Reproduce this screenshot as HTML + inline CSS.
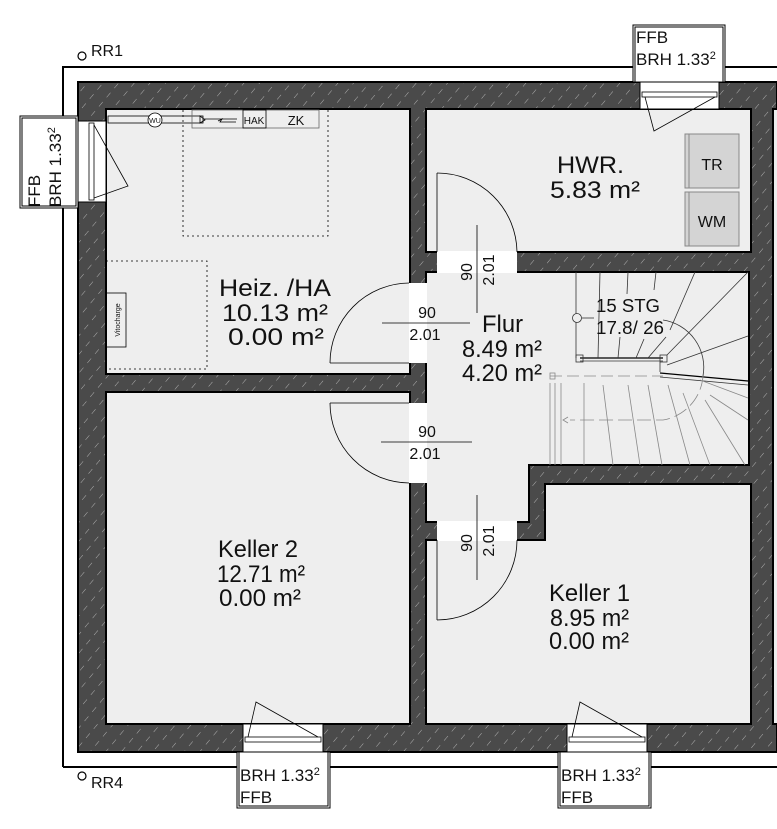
<!DOCTYPE html>
<html><head><meta charset="utf-8"><style>
html,body{margin:0;padding:0;background:#fff;}
svg{display:block;}
text{font-family:"Liberation Sans",sans-serif;fill:#111;}
</style></head><body>
<svg width="777" height="829" viewBox="0 0 777 829" xmlns="http://www.w3.org/2000/svg">
<defs>
<pattern id="h" width="12" height="12" patternUnits="userSpaceOnUse" patternTransform="rotate(40)">
<rect width="12" height="12" fill="#4a4a4a"/>
<line x1="0" y1="0" x2="0" y2="6" stroke="#bdbdbd" stroke-width="0.9"/>
</pattern>
</defs>
<path d="M63,767 V67 H777" fill="none" stroke="#000" stroke-width="2"/>
<line x1="63" y1="767" x2="777" y2="767" stroke="#000" stroke-width="2"/>
<rect x="78" y="82" width="699" height="670" fill="url(#h)" stroke="#000" stroke-width="2"/>
<g fill="#eeeeee" stroke="#000" stroke-width="2">
<rect x="106" y="109" width="304" height="265"/>
<rect x="426" y="109" width="325" height="143"/>
<rect x="106" y="392" width="304" height="332"/>
<polygon points="426,540 545,540 545,484 751,484 751,724 426,724"/>
<polygon points="426,272 749,272 749,465 529,465 529,522 426,522"/>
<rect x="773" y="109" width="10" height="615"/>
</g>
<g fill="#fff">
<rect x="409" y="283" width="18" height="80"/>
<rect x="409" y="403" width="18" height="80"/>
<rect x="437" y="251" width="80" height="22"/>
<rect x="437" y="521" width="80" height="20"/>
</g>
<g fill="#fff" stroke="#000" stroke-width="1">
<rect x="78" y="121" width="28" height="81"/>
<rect x="640" y="82" width="79" height="27"/>
<rect x="243" y="724" width="80" height="28"/>
<rect x="567" y="724" width="80" height="28"/>
</g>
<g fill="none" stroke="#000" stroke-width="0.8">
<rect x="89" y="123" width="5" height="77"/>
<rect x="642" y="92" width="75" height="5"/>
<rect x="245" y="737" width="76" height="5"/>
<rect x="569" y="737" width="76" height="5"/>
<polyline points="94,125 128,186 94,198"/>
<polyline points="645,97 654,131 715,97"/>
<polyline points="248,737 256,702 318,737"/>
<polyline points="572,737 580,702 642,737"/>
</g>
<g fill="#fff" stroke="#000" stroke-width="1">
<rect x="20" y="116" width="58" height="92"/><rect x="22" y="118" width="54" height="88" fill="none"/>
<rect x="633" y="25" width="92" height="57"/><rect x="635" y="27" width="88" height="55" fill="none"/>
<rect x="237" y="752" width="93" height="56"/><rect x="239" y="752" width="89" height="54" fill="none"/>
<rect x="558" y="752" width="93" height="56"/><rect x="560" y="752" width="89" height="54" fill="none"/>
</g>
<g font-size="17">
<text x="636" y="43">FFB</text>
<text x="636" y="65">BRH 1.33<tspan font-size="11" dy="-6">2</tspan></text>
<text x="240" y="781">BRH 1.33<tspan font-size="11" dy="-6">2</tspan></text>
<text x="240" y="803">FFB</text>
<text x="561" y="781">BRH 1.33<tspan font-size="11" dy="-6">2</tspan></text>
<text x="561" y="803">FFB</text>
<text transform="translate(40,207) rotate(-90)">FFB</text>
<text transform="translate(61,207) rotate(-90)">BRH 1.33<tspan font-size="11" dy="-6">2</tspan></text>
</g>
<circle cx="82" cy="56" r="4" fill="none" stroke="#000" stroke-width="1.2"/>
<text x="91" y="56" font-size="16">RR1</text>
<circle cx="82" cy="776" r="4" fill="none" stroke="#000" stroke-width="1.2"/>
<text x="91" y="788" font-size="16">RR4</text>
<g fill="none" stroke="#000" stroke-width="0.8">
<line x1="330" y1="363" x2="409" y2="363"/>
<path d="M330,363 A80,80 0 0 1 409,283"/>
<line x1="330" y1="403" x2="409" y2="403"/>
<path d="M330,403 A80,80 0 0 0 409,483"/>
<line x1="437" y1="173" x2="437" y2="252"/>
<path d="M437,173 A80,80 0 0 1 517,252"/>
<line x1="437" y1="540" x2="437" y2="620"/>
<path d="M437,620 A80,80 0 0 0 517,540"/>
</g>
<g stroke="#000" stroke-width="0.8">
<line x1="382" y1="323" x2="470" y2="323"/>
<line x1="381" y1="442" x2="472" y2="442"/>
<line x1="477" y1="225" x2="477" y2="313"/>
<line x1="477" y1="495" x2="477" y2="580"/>
</g>
<g font-size="16" text-anchor="middle">
<text x="427" y="318">90</text>
<text x="425" y="340">2.01</text>
<text x="427" y="437">90</text>
<text x="425" y="459">2.01</text>
<text transform="translate(472,272) rotate(-90)">90</text>
<text transform="translate(494,270) rotate(-90)">2.01</text>
<text transform="translate(472,543) rotate(-90)">90</text>
<text transform="translate(494,541) rotate(-90)">2.01</text>
</g>
<g fill="none" stroke="#000" stroke-width="0.8">
<rect x="108" y="116" width="95" height="7"/>
<line x1="203" y1="119" x2="237" y2="119"/>
<rect x="192" y="110" width="127" height="18" stroke="#666"/>
<rect x="243" y="110" width="23" height="18" stroke="#000"/>
<path d="M200,116 L205,120 L200,123 Z"/>
<path d="M218,121 L222,119 L220,122 L236,122"/>
<rect x="106" y="293" width="20" height="54"/>
</g>
<circle cx="155" cy="120" r="7" fill="#fff" stroke="#000" stroke-width="0.8"/>
<text x="155" y="123" font-size="7" text-anchor="middle">WU</text>
<text x="254" y="124" font-size="10" text-anchor="middle">HAK</text>
<text x="296" y="125" font-size="13" text-anchor="middle">ZK</text>
<text transform="translate(120,320) rotate(-90)" font-size="7" text-anchor="middle">Vitocharge</text>
<g fill="none" stroke="#000" stroke-width="0.8" stroke-dasharray="2,3">
<path d="M183,110 V236 H328 V110"/>
<path d="M106,261 H207 V369 H106"/>
</g>
<g stroke="#888" stroke-width="1" fill="#d4d4d4">
<rect x="685" y="134" width="54" height="54"/>
<rect x="685" y="192" width="54" height="54"/>
</g>
<g stroke="#888" stroke-width="1"><line x1="689" y1="134" x2="689" y2="188"/><line x1="689" y1="192" x2="689" y2="246"/></g>
<text x="712" y="170" font-size="16" text-anchor="middle">TR</text>
<text x="712" y="227" font-size="16" text-anchor="middle">WM</text>
<g fill="none" stroke="#333" stroke-width="0.8">
<line x1="576" y1="272" x2="576" y2="358"/>
<line x1="580" y1="358" x2="663" y2="358" stroke="#000" stroke-width="1.2"/>
<line x1="580" y1="361" x2="663" y2="361"/>
<rect x="576" y="355" width="7" height="7"/>
<rect x="660" y="355" width="7" height="7"/>
<line x1="660" y1="362" x2="660" y2="372"/>
<line x1="660" y1="373" x2="748" y2="381" stroke="#000" stroke-width="1.2"/>
<line x1="660" y1="377" x2="748" y2="385"/>
<path d="M663,320 A48,48 0 0 1 703,376"/>
<line x1="600" y1="272" x2="598" y2="358"/>
<line x1="628" y1="272" x2="627" y2="294"/>
<line x1="620" y1="337" x2="618" y2="358"/>
<line x1="656" y1="272" x2="654" y2="290"/>
<line x1="644" y1="339" x2="636" y2="358"/>
<line x1="695" y1="272" x2="670" y2="330"/>
<line x1="666" y1="337" x2="648" y2="358"/>
<line x1="748" y1="272" x2="667" y2="355"/>
<line x1="748" y1="336" x2="667" y2="365"/>
</g>
<g fill="none" stroke="#888" stroke-width="0.8">
<line x1="550" y1="376" x2="663" y2="376" stroke-dasharray="12,5"/>
<rect x="550" y="373" width="5" height="6"/>
<line x1="550" y1="383" x2="550" y2="465"/><line x1="555" y1="383" x2="555" y2="465"/><line x1="561" y1="383" x2="561" y2="465"/>
<line x1="584" y1="383" x2="584" y2="465"/>
<line x1="603" y1="385" x2="613" y2="465"/>
<line x1="628" y1="385" x2="640" y2="465"/>
<line x1="648" y1="385" x2="662" y2="465"/>
<line x1="668" y1="385" x2="690" y2="465"/>
<line x1="683" y1="393" x2="710" y2="465"/>
<line x1="705" y1="400" x2="745" y2="465"/>
<line x1="710" y1="395" x2="748" y2="420"/>
<line x1="700" y1="380" x2="748" y2="398"/>
<path d="M703,376 A48,48 0 0 1 663,420 H570" stroke-dasharray="14,5"/>
<path d="M568,417 L563,420 L568,423"/>
</g>
<circle cx="577" cy="318" r="4.5" fill="#eee" stroke="#333" stroke-width="0.8"/>
<line x1="582" y1="318" x2="594" y2="318" stroke="#333" stroke-width="0.8"/>
<text x="596" y="312" font-size="18" textLength="64" lengthAdjust="spacingAndGlyphs">15 STG</text>
<text x="596" y="334" font-size="18" textLength="68" lengthAdjust="spacingAndGlyphs">17.8/ 26</text>
<g font-size="24">
<text x="219" y="296" textLength="112" lengthAdjust="spacingAndGlyphs">Heiz. /HA</text>
<text x="222" y="321" textLength="106" lengthAdjust="spacingAndGlyphs">10.13 m²</text>
<text x="228" y="345" textLength="96" lengthAdjust="spacingAndGlyphs">0.00 m²</text>
<text x="557" y="173" textLength="67" lengthAdjust="spacingAndGlyphs">HWR.</text>
<text x="550" y="198" textLength="90" lengthAdjust="spacingAndGlyphs">5.83 m²</text>
<text x="482" y="332" textLength="41" lengthAdjust="spacingAndGlyphs">Flur</text>
<text x="462" y="357" textLength="80" lengthAdjust="spacingAndGlyphs">8.49 m²</text>
<text x="462" y="381" textLength="80" lengthAdjust="spacingAndGlyphs">4.20 m²</text>
<text x="218" y="557" textLength="80" lengthAdjust="spacingAndGlyphs">Keller 2</text>
<text x="217" y="582" textLength="88" lengthAdjust="spacingAndGlyphs">12.71 m²</text>
<text x="219" y="606" textLength="82" lengthAdjust="spacingAndGlyphs">0.00 m²</text>
<text x="549" y="601" textLength="81" lengthAdjust="spacingAndGlyphs">Keller 1</text>
<text x="550" y="626" textLength="79" lengthAdjust="spacingAndGlyphs">8.95 m²</text>
<text x="549" y="649" textLength="80" lengthAdjust="spacingAndGlyphs">0.00 m²</text>
</g>
</svg>
</body></html>
